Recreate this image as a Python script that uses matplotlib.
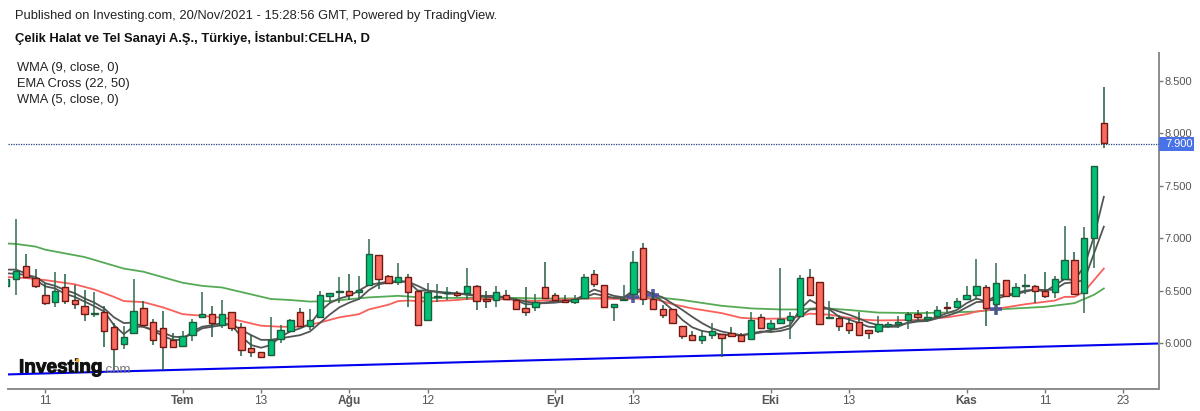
# -*- coding: utf-8 -*-
# CELHA daily candles with WMA / EMA overlays, Investing.com look
import matplotlib
matplotlib.use('Agg')
import matplotlib.pyplot as plt
import matplotlib.patheffects as pe
from matplotlib.lines import Line2D
from matplotlib.patches import Rectangle

plt.rcParams['font.family'] = ['Liberation Sans', 'DejaVu Sans']

opens = [6.54, 6.61, 6.73, 6.62, 6.46, 6.39, 6.53, 6.41, 6.35, 6.28,
         6.30, 6.15, 5.99, 6.10, 6.335, 6.20, 6.14, 6.025, 5.97, 6.08,
         6.245, 6.28, 6.17, 6.30, 6.15, 5.95, 5.91, 5.885, 6.035, 6.11,
         6.30, 6.165, 6.245, 6.45, 6.49, 6.50, 6.49, 6.555, 6.835, 6.64,
         6.585, 6.63, 6.50, 6.22, 6.44, 6.475, 6.48, 6.475, 6.54, 6.415,
         6.41, 6.455, 6.41, 6.33, 6.345, 6.53, 6.46, 6.41, 6.395, 6.43,
         6.66, 6.55, 6.345, 6.41, 6.465, 6.905, 6.42, 6.32, 6.32, 6.165,
         6.08, 6.03, 6.08, 6.09, 6.095, 6.08, 6.035, 6.25, 6.14, 6.19,
         6.22, 6.26, 6.625, 6.58, 6.24, 6.235, 6.19, 6.205, 6.125, 6.115,
         6.16, 6.18, 6.22, 6.275, 6.23, 6.26, 6.345, 6.34, 6.42, 6.46,
         6.53, 6.37, 6.60, 6.45, 6.545, 6.54, 6.50, 6.485, 6.615, 6.79,
         6.475, 7.005, 8.095]
closes = [6.61, 6.69, 6.63, 6.54, 6.385, 6.50, 6.40, 6.375, 6.28, 6.285,
          6.115, 5.945, 6.055, 6.31, 6.175, 6.025, 5.965, 5.96, 6.07, 6.20,
          6.28, 6.19, 6.28, 6.14, 5.93, 5.91, 5.87, 6.03, 6.12, 6.22,
          6.165, 6.22, 6.46, 6.48, 6.50, 6.455, 6.51, 6.845, 6.61, 6.57,
          6.625, 6.485, 6.17, 6.49, 6.45, 6.485, 6.455, 6.545, 6.40, 6.40,
          6.485, 6.415, 6.32, 6.30, 6.395, 6.43, 6.41, 6.39, 6.42, 6.625,
          6.565, 6.34, 6.37, 6.42, 6.775, 6.415, 6.325, 6.265, 6.195, 6.07,
          6.03, 6.07, 6.11, 6.045, 6.07, 6.02, 6.215, 6.145, 6.195, 6.23,
          6.26, 6.62, 6.455, 6.185, 6.25, 6.165, 6.12, 6.08, 6.10, 6.185,
          6.18, 6.20, 6.275, 6.245, 6.245, 6.315, 6.335, 6.40, 6.46, 6.54,
          6.335, 6.57, 6.45, 6.53, 6.555, 6.50, 6.45, 6.61, 6.79, 6.47,
          7.0, 7.685, 7.905]
highs = [6.68, 7.18, 6.85, 6.71, 6.57, 6.68, 6.655, 6.55, 6.505, 6.49,
         6.35, 6.19, 6.16, 6.61, 6.40, 6.225, 6.305, 6.10, 6.11, 6.23,
         6.49, 6.35, 6.41, 6.30, 6.19, 6.08, 5.91, 6.25, 6.17, 6.23,
         6.33, 6.32, 6.495, 6.48, 6.63, 6.655, 6.64, 6.99, 6.835, 6.65,
         6.76, 6.655, 6.50, 6.57, 6.56, 6.535, 6.50, 6.72, 6.55, 6.495,
         6.545, 6.505, 6.425, 6.53, 6.47, 6.77, 6.475, 6.46, 6.46, 6.655,
         6.70, 6.55, 6.37, 6.55, 6.875, 6.95, 6.49, 6.36, 6.32, 6.165,
         6.115, 6.12, 6.19, 6.09, 6.15, 6.095, 6.30, 6.275, 6.22, 6.72,
         6.30, 6.65, 6.705, 6.58, 6.40, 6.27, 6.235, 6.30, 6.125, 6.26,
         6.205, 6.26, 6.30, 6.315, 6.305, 6.355, 6.395, 6.43, 6.545, 6.805,
         6.555, 6.76, 6.60, 6.575, 6.655, 6.555, 6.68, 6.64, 7.115, 6.87,
         7.11, 7.685, 8.445]
lows = [6.50, 6.46, 6.63, 6.52, 6.36, 6.34, 6.37, 6.32, 6.21, 6.25,
        5.965, 5.74, 5.945, 6.10, 6.16, 5.98, 5.74, 5.96, 5.97, 6.02,
        6.245, 6.055, 6.14, 6.11, 5.88, 5.87, 5.86, 5.885, 6.0, 6.11,
        6.165, 6.125, 6.245, 6.38, 6.385, 6.41, 6.41, 6.555, 6.515, 6.57,
        6.55, 6.345, 6.17, 6.22, 6.395, 6.41, 6.435, 6.41, 6.315, 6.335,
        6.345, 6.415, 6.32, 6.26, 6.305, 6.43, 6.41, 6.39, 6.37, 6.43,
        6.535, 6.34, 6.21, 6.41, 6.41, 6.36, 6.325, 6.24, 6.195, 6.04,
        6.02, 5.99, 6.035, 5.87, 6.07, 6.02, 6.035, 6.145, 6.10, 6.19,
        6.04, 6.26, 6.455, 6.185, 6.24, 6.115, 6.09, 6.08, 6.04, 6.10,
        6.14, 6.14, 6.13, 6.21, 6.20, 6.25, 6.30, 6.33, 6.42, 6.41,
        6.165, 6.28, 6.435, 6.45, 6.47, 6.38, 6.425, 6.425, 6.615, 6.47,
        6.29, 6.72, 7.86]

# fast WMA and slow WMA, one reading per bar
wma5 = [6.70, 6.70, 6.665, 6.60, 6.54, 6.52, 6.47, 6.44, 6.395, 6.35,
        6.30, 6.17, 6.085, 6.155, 6.155, 6.12, 6.065, 6.03, 6.03, 6.11,
        6.155, 6.17, 6.19, 6.17, 6.06, 5.98, 5.955, 5.98, 6.06, 6.11,
        6.14, 6.18, 6.30, 6.38, 6.425, 6.45, 6.50, 6.555, 6.57, 6.585,
        6.59, 6.585, 6.50, 6.50, 6.485, 6.47, 6.47, 6.47, 6.45, 6.44,
        6.435, 6.435, 6.41, 6.37, 6.37, 6.385, 6.40, 6.40, 6.41, 6.46,
        6.51, 6.48, 6.45, 6.435, 6.50, 6.515, 6.46, 6.395, 6.315, 6.22,
        6.15, 6.115, 6.10, 6.08, 6.075, 6.075, 6.085, 6.10, 6.125, 6.14,
        6.17, 6.32, 6.41, 6.36, 6.32, 6.25, 6.225, 6.19, 6.155, 6.15,
        6.155, 6.155, 6.195, 6.215, 6.215, 6.25, 6.285, 6.315, 6.38, 6.425,
        6.395, 6.45, 6.46, 6.475, 6.50, 6.51, 6.49, 6.55, 6.61, 6.60,
        6.73, 7.015, 7.395]
wma9 = [6.665, 6.66, 6.65, 6.63, 6.57, 6.545, 6.505, 6.475, 6.425, 6.385,
        6.33, 6.245, 6.19, 6.195, 6.155, 6.125, 6.10, 6.06, 6.055, 6.085,
        6.14, 6.155, 6.17, 6.18, 6.125, 6.075, 6.03, 6.03, 6.045, 6.06,
        6.075, 6.11, 6.19, 6.27, 6.34, 6.385, 6.42, 6.505, 6.56, 6.575,
        6.585, 6.585, 6.545, 6.50, 6.49, 6.48, 6.475, 6.46, 6.45, 6.45,
        6.45, 6.435, 6.415, 6.395, 6.38, 6.38, 6.385, 6.395, 6.41, 6.435,
        6.47, 6.45, 6.43, 6.43, 6.475, 6.50, 6.47, 6.435, 6.375, 6.315,
        6.25, 6.19, 6.14, 6.11, 6.09, 6.075, 6.09, 6.11, 6.105, 6.115,
        6.14, 6.25, 6.32, 6.325, 6.33, 6.30, 6.27, 6.235, 6.195, 6.17,
        6.165, 6.17, 6.19, 6.205, 6.21, 6.235, 6.26, 6.29, 6.34, 6.39,
        6.395, 6.42, 6.45, 6.465, 6.49, 6.51, 6.505, 6.51, 6.57, 6.58,
        6.60, 6.855, 7.11]

ema22_x = [0, 2, 4, 7, 9, 11, 12, 14, 16, 18, 20, 23, 26, 28, 30, 32, 34, 36,
           37, 39, 40, 41, 43, 46, 47, 50, 54, 59, 63, 66, 68, 70, 73, 75, 77,
           80, 82, 84, 87, 89, 93, 96, 98, 99, 101, 104, 107, 108, 109, 110,
           111, 112]
ema22 = [6.63, 6.62, 6.60, 6.56, 6.51, 6.44, 6.40, 6.39, 6.34, 6.275, 6.26,
         6.23, 6.165, 6.155, 6.155, 6.195, 6.245, 6.275, 6.32, 6.365, 6.40,
         6.405, 6.395, 6.41, 6.42, 6.42, 6.40, 6.425, 6.42, 6.425, 6.37, 6.33,
         6.285, 6.24, 6.23, 6.235, 6.28, 6.27, 6.225, 6.215, 6.22, 6.245,
         6.275, 6.30, 6.325, 6.37, 6.405, 6.44, 6.44, 6.49, 6.60, 6.71]

ema50_x = [0, 1, 3, 4, 8, 12, 14, 18, 20, 22, 27, 29, 31, 33, 37, 40, 43, 46,
           50, 54, 59, 63, 67, 69, 73, 76, 79, 81, 83, 86, 89, 93, 96, 99,
           101, 106, 109, 111, 112]
ema50 = [6.95, 6.945, 6.92, 6.89, 6.82, 6.71, 6.68, 6.575, 6.545, 6.53, 6.42,
         6.41, 6.395, 6.40, 6.435, 6.45, 6.43, 6.43, 6.435, 6.425, 6.425,
         6.435, 6.43, 6.41, 6.355, 6.33, 6.32, 6.32, 6.335, 6.315, 6.29,
         6.285, 6.29, 6.30, 6.32, 6.345, 6.38, 6.46, 6.52]

# long trend line drawn by the author
trend_x = [0.13, 117.58]
trend_y = [5.70, 5.995]

cross_x = [64, 66, 101]
cross_y = [6.44, 6.46, 6.325]

last_price = 7.9
tick_pos = [4, 18, 26, 35, 43, 56, 64, 78, 86, 98, 106, 114]
tick_labels = ['11', 'Tem', '13', 'Ağu', '12', 'Eyl', '13', 'Eki', '13', 'Kas', '11', '23']
month_labels = ['Tem', 'Ağu', 'Eyl', 'Eki', 'Kas']
price_ticks = [6.0, 6.5, 7.0, 7.5, 8.0, 8.5]
legend_lines = ['WMA (9, close, 0)', 'EMA Cross (22, 50)', 'WMA (5, close, 0)']

W, H = 1200, 411
fig = plt.figure(figsize=(W / 100, H / 100), dpi=100)
ax = fig.add_axes([7.5 / W, (H - 389) / H, 1151 / W, 336 / H])
ax.set_xlim(0.133, 117.58)
ax.set_ylim(5.561, 8.767)

ax.plot(trend_x, trend_y, color='#0000ee', lw=1.5, zorder=2)
ax.plot(ema50_x, ema50, color='#55aa55', lw=1.3, zorder=2)
ax.plot(ema22_x, ema22, color='#f8605c', lw=1.3, zorder=2)
ax.plot(range(len(wma9)), wma9, color='#555555', lw=1.3, zorder=3)
ax.plot(range(len(wma5)), wma5, color='#555555', lw=1.3, zorder=3)
ax.plot(cross_x, cross_y, ls='none', marker='+', ms=9, mew=2.6, color='#4a4aa5', alpha=0.9, zorder=4)
ax.axhline(last_price, color='#27408b', lw=0.9, ls=(0, (1, 1)), zorder=3)

for i in range(len(opens)):
    up = closes[i] >= opens[i]
    edge = '#1d5c3c' if up else '#6e1a14'
    fill = '#00c176' if up else '#fa6a5e'
    ax.vlines(i, lows[i], highs[i], color='#2f6b4c' if up else '#1f5f3f', lw=1.1, zorder=5)
    ax.bar(i, closes[i] - opens[i], bottom=opens[i], width=0.66, color=fill,
           edgecolor=edge, linewidth=1.0, zorder=6)

for side in ['top', 'left']:
    ax.spines[side].set_visible(False)
for side in ['bottom', 'right']:
    ax.spines[side].set_color('#8c8c8c')
    ax.spines[side].set_linewidth(1.4)

ax.yaxis.tick_right()
ax.set_yticks(price_ticks)
ax.set_yticklabels(['{:.3f}'.format(p) for p in price_ticks])
ax.tick_params(axis='y', colors='#777777', length=3, width=1, labelsize=8, labelcolor='#555555', pad=1.5)
ax.set_xticks(tick_pos)
ax.set_xticklabels(tick_labels)
ax.tick_params(axis='x', colors='#777777', length=3, width=1, labelsize=8.6, labelcolor='#555555', pad=1.5)
for lab in ax.get_xticklabels():
    if lab.get_text() in month_labels:
        lab.set_fontweight('bold')

# last price tag on the scale
ax.add_patch(Rectangle((1, last_price - 0.067), 35 / 1151, 0.134, transform=ax.get_yaxis_transform(),
                       fc='#4a72e8', ec='none', clip_on=False, zorder=10))
ax.annotate('7.900', xy=(1, last_price), xycoords=('axes fraction', 'data'), xytext=(7, 0),
            textcoords='offset pixels', ha='left', va='center', color='white', fontsize=8,
            zorder=11, annotation_clip=False)

fig.text(15 / W, 1 - 16 / H, 'Published on Investing.com, 20/Nov/2021 - 15:28:56 GMT, Powered by TradingView.',
         fontsize=9.3, color='#222222', va='center')
fig.text(15 / W, 1 - 38 / H, 'Çelik Halat ve Tel Sanayi A.Ş., Türkiye, İstanbul:CELHA, D',
         fontsize=9.35, fontweight='bold', color='#111111', va='center')
for n, txt in enumerate(legend_lines):
    fig.text(17 / W, 1 - (67.5 + 16 * n) / H, txt, fontsize=9.25, color='#222222', va='center')

# watermark
logo = fig.text(19 / W, 1 - 368 / H, 'Investing', fontsize=13.7, fontweight='bold', color='#111111', va='center', zorder=11)
logo.set_path_effects([pe.withStroke(linewidth=0.7, foreground='#111111')])
fig.text(103 / W, 1 - 370 / H, '.com', fontsize=9.5, color='#777777', va='center', zorder=11)
fig.add_artist(Line2D([77 / W], [1 - 360 / H], marker='o', ms=2.6, mew=0, color='#f5a623', ls='none', zorder=12))

fig.savefig('out.png', dpi=100)
